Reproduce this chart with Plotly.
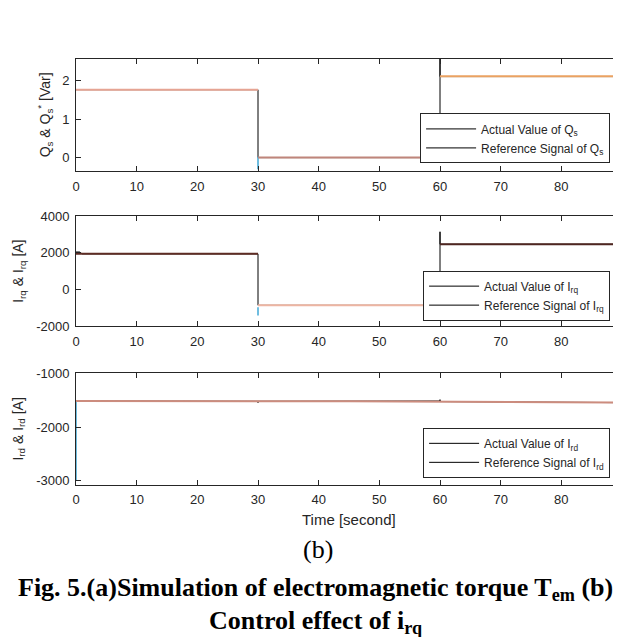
import plotly.graph_objects as go
from plotly.subplots import make_subplots

# time axis ticks
TIME_TICKS = [0, 10, 20, 30, 40, 50, 60, 70, 80, 90]

# stator reactive power Q_s (x10^4 Var)
QS_TIME = [0, 30, 30, 60, 60, 60, 90]
QS_ACTUAL = [1.76, 1.76, 0.0, 0.0, 2.8, 2.1, 2.1]
QS_SPIKE_TIME = [30, 30]
QS_SPIKE = [0.02, -0.3]
QS_REF_TIME = [[0, 30], [30, 60], [60, 90]]
QS_REF = [[1.76, 1.76], [0.0, 0.0], [2.11, 2.11]]

# rotor q-axis current I_rq (A)
IRQ_TIME = [0, 0.6, 1.0, 30, 30, 60, 60, 60, 90]
IRQ_ACTUAL = [2050, 2050, 1950, 1950, -850, -850, 3150, 2470, 2470]
IRQ_SPIKE_TIME = [30, 30]
IRQ_SPIKE = [-950, -1400]
IRQ_REF_TIME = [[0, 30], [30, 60], [60, 90]]
IRQ_REF = [[1950, 1950], [-850, -850], [2470, 2470]]

# rotor d-axis current I_rd (A)
IRD_TIME = [0, 30, 30, 30, 60, 60, 60, 90]
IRD_ACTUAL = [-1515, -1520, -1545, -1520, -1515, -1490, -1525, -1545]
IRD_SPIKE_TIME = [0, 0]
IRD_SPIKE = [-1515, -3000]
IRD_REF_TIME = [[0, 45, 90]]
IRD_REF = [[-1515, -1520, -1545]]

Y_RANGES = [[-0.354, 2.557], [-2000, 4000], [-3073, -1000]]
Y_TICKS = [[0, 1, 2], [-2000, 0, 2000, 4000], [-3000, -2000, -1000]]
Y_TICK_LABELS = [["0", "1", "2"], ["-2000", "0", "2000", "4000"],
                 ["-3000", "-2000", "-1000"]]

# styles
INK = "#262626"
SPIKE_COLOR = "#3FA7D6"
REF_COLORS = [
    ["#E6A493", "#BF857B", "#EAA262"],
    ["#5E2C24", "#EDB5A2", "#4E2621"],
    ["#CC8C7E"],
]
SANS = "Liberation Sans, Arial, sans-serif"
SERIF = "Liberation Serif, Times New Roman, serif"

W, H = 621, 637
ML, MR = 68, 2
PW = W - ML - MR
# panel frames in pixels (top, bottom)
FRAMES = [(45, 160), (206, 319), (367, 481)]
LEGEND_BOTTOMS = [152, 313, 474]
YTITLE_X = [37, 11, 10]


def px_x(px):
    return (px - ML) / PW


def px_y(py):
    return 1 - py / H


panels = [
    (QS_TIME, QS_ACTUAL, QS_SPIKE_TIME, QS_SPIKE, QS_REF_TIME, QS_REF,
     "Q<sub>s</sub>", "Q<sub>s</sub> & Q<sub>s</sub><sup>*</sup> [Var]"),
    (IRQ_TIME, IRQ_ACTUAL, IRQ_SPIKE_TIME, IRQ_SPIKE, IRQ_REF_TIME, IRQ_REF,
     "I<sub>rq</sub>", "I<sub>rq</sub> & I<sub>rq</sub> [A]"),
    (IRD_TIME, IRD_ACTUAL, IRD_SPIKE_TIME, IRD_SPIKE, IRD_REF_TIME, IRD_REF,
     "I<sub>rd</sub>", "I<sub>rd</sub> & I<sub>rd</sub> [A]"),
]

fig = make_subplots(rows=3, cols=1)

for i, (t, act, st, sp, rt, rv, sym, ytitle) in enumerate(panels):
    row = i + 1
    leg = "legend" if i == 0 else f"legend{i + 1}"
    fig.add_trace(go.Scatter(
        x=t, y=act, mode="lines", line=dict(color="black", width=1),
        name=f"Actual Value of {sym}", legend=leg,
    ), row=row, col=1)
    fig.add_trace(go.Scatter(
        x=st, y=sp, mode="lines", line=dict(color=SPIKE_COLOR, width=1.5),
        showlegend=False, hoverinfo="skip",
    ), row=row, col=1)
    for seg_t, seg_v, col in zip(rt, rv, REF_COLORS[i]):
        fig.add_trace(go.Scatter(
            x=seg_t, y=seg_v, mode="lines", line=dict(color=col, width=2),
            showlegend=False,
        ), row=row, col=1)
    # legend entry drawn in black, as in the original figure
    fig.add_trace(go.Scatter(
        x=[None], y=[None], mode="lines", line=dict(color="black", width=1),
        name=f"Reference Signal of {sym}", legend=leg,
    ), row=row, col=1)

    top, bottom = FRAMES[i]
    axis_common = dict(
        showline=True, linecolor=INK, linewidth=1, mirror="ticks",
        ticks="inside", ticklen=5, tickcolor=INK, showgrid=False,
        zeroline=False, tickfont=dict(family=SANS, size=13, color=INK),
        ticklabeloverflow="allow", ticklabelstandoff=3,
    )
    fig.update_xaxes(range=[0, 90], tickvals=TIME_TICKS, domain=[0, 1],
                     **axis_common, row=row, col=1)
    fig.update_yaxes(range=Y_RANGES[i], tickvals=Y_TICKS[i],
                     ticktext=Y_TICK_LABELS[i],
                     domain=[px_y(bottom), px_y(top)],
                     **axis_common, row=row, col=1)

    fig.add_annotation(
        text=ytitle, textangle=-90, xref="paper", yref="paper",
        x=px_x(YTITLE_X[i]), y=(px_y(bottom) + px_y(top)) / 2,
        xanchor="center", yanchor="middle", showarrow=False,
        font=dict(family=SANS, size=14, color=INK),
    )

    fig.update_layout({leg: dict(
        x=px_x(607), y=px_y(LEGEND_BOTTOMS[i]), xanchor="right", yanchor="bottom",
        bgcolor="white", bordercolor=INK, borderwidth=1, itemwidth=50,
        font=dict(family=SANS, size=12, color=INK),
    )})

fig.add_annotation(
    text="Time [second]", xref="paper", yref="paper", x=0.5, y=px_y(517),
    xanchor="center", yanchor="middle", showarrow=False,
    font=dict(family=SANS, size=15, color=INK),
)
fig.add_annotation(
    text="(b)", xref="paper", yref="paper", x=px_x(312), y=px_y(547),
    xanchor="center", yanchor="middle", showarrow=False,
    font=dict(family=SERIF, size=26, color="black"),
)
fig.add_annotation(
    text="<b>Fig. 5.(a)Simulation of electromagnetic torque T<sub>em</sub> (b)</b>",
    xref="paper", yref="paper", x=px_x(310), y=px_y(588),
    xanchor="center", yanchor="middle", showarrow=False,
    font=dict(family=SERIF, size=26, color="black"),
)
fig.add_annotation(
    text="<b>Control effect of i<sub>rq</sub></b>",
    xref="paper", yref="paper", x=px_x(310), y=px_y(622),
    xanchor="center", yanchor="middle", showarrow=False,
    font=dict(family=SERIF, size=26, color="black"),
)

fig.update_layout(
    width=W, height=H, autosize=False,
    margin=dict(l=ML, r=MR, t=0, b=0),
    paper_bgcolor="white", plot_bgcolor="white",
    hovermode="closest",
)

fig.write_html("out.html")
